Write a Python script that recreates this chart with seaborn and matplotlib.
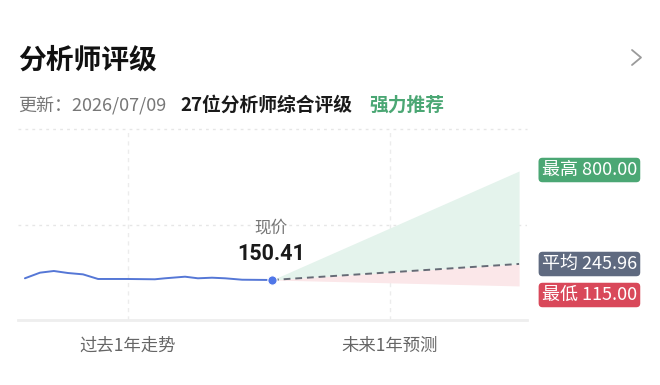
import matplotlib
matplotlib.use("Agg")
import matplotlib.pyplot as plt
from matplotlib.lines import Line2D
import seaborn as sns
import pandas as pd

# ---- data ----
hist_t = [0.0, 0.061, 0.117, 0.174, 0.235, 0.296, 0.413, 0.526, 0.567, 0.648, 0.700, 0.757, 0.810, 0.879, 1.0]
hist_price = [160.5, 194, 204, 192, 184, 156.4, 156.4, 154.6, 160.5, 170, 160.5, 164, 160.5, 152, 150.41]
current_price = 150.41
target_high = 800.00
target_avg = 245.96
target_low = 115.00
forecast_t = [1.0, 2.0]
period_labels = ["过去1年走势", "未来1年预测"]
period_ticks = [0.417, 1.478]

sns.set_theme(style="white")
plt.rcParams['font.family'] = ['Noto Sans CJK SC', 'DejaVu Sans']

W, H = 660, 385
fig = plt.figure(figsize=(6.6, 3.85), dpi=100)
fig.patch.set_facecolor("white")

def fx(px):
    return px / W

def fy(py):
    return 1 - py / H

ax = fig.add_axes([fx(18), fy(320), fx(527) - fx(18), fy(129) - fy(320)])
ax.set_facecolor("white")
ax.set_xlim(-0.028, 2.032)
ax.set_ylim(-88, 1050)

# grid
ymid = (-88 + 1050) / 2
ax.axhline(ymid, color="#e6e6e6", lw=1, ls=(0, (2, 3)), zorder=0)
ax.axhline(1050, color="#e6e6e6", lw=1, ls=(0, (2, 3)), zorder=0, clip_on=False)
for t in period_ticks:
    ax.axvline(t, color="#ececec", lw=1, ls=(0, (3, 3)), zorder=0)

for s in ["top", "right", "left"]:
    ax.spines[s].set_visible(False)
ax.spines["bottom"].set_color("#eeeeee")
ax.spines["bottom"].set_linewidth(2)
ax.set_yticks([])
ax.set_xticks([])

# forecast fills
f_high = [current_price, target_high]
f_avg = [current_price, target_avg]
f_low = [current_price, target_low]
ax.fill_between(forecast_t, f_avg, f_high, color="#e4f3ec", lw=0, zorder=1)
ax.fill_between(forecast_t, f_low, f_avg, color="#fbe7e9", lw=0, zorder=1)
ax.plot(forecast_t, f_avg, color="#666b76", lw=1.4, ls=(0, (3.5, 2.5)), zorder=3)

# history line
hist_df = pd.DataFrame({"t": hist_t, "price": hist_price})
sns.lineplot(data=hist_df, x="t", y="price", ax=ax, color="#5577d6", lw=1.4, zorder=4)
sns.scatterplot(x=[hist_t[-1]], y=[hist_price[-1]], ax=ax, color="#4f76e8", s=45,
                edgecolor="white", linewidth=0.8, zorder=5)
ax.set_xlabel("")
ax.set_ylabel("")

# current price labels
fig.text(fx(271), fy(228), "现价", ha="center", va="center", fontsize=12, color="#777777")
fig.text(fx(271), fy(254), f"{current_price:.2f}", ha="center", va="center", fontsize=15.5,
         fontweight="bold", color="#1a1a1a", family=["Roboto", "DejaVu Sans"])

# badges
def badge(py, label, value, color):
    fig.text(fx(637), fy(py), f"{label} {value:.2f}", ha="right", va="center", fontsize=13,
             color="white",
             bbox=dict(boxstyle="round,pad=0.18,rounding_size=0.22", fc=color, ec="none"))

badge(170, "最高", target_high, "#4ba774")
badge(264, "平均", target_avg, "#5f6a80")
badge(295, "最低", target_low, "#d9485a")

# period labels
for t, lab in zip(period_ticks, period_labels):
    px = 18 + (t + 0.028) / (2.032 + 0.028) * (527 - 18)
    fig.text(fx(px), fy(346), lab, ha="center", va="center", fontsize=12.5, color="#666666")

# header
fig.text(fx(18), fy(61), "分析师评级", ha="left", va="center", fontsize=20, fontweight="bold", color="#111111")
fig.add_artist(Line2D([fx(632), fx(641), fx(632)], [fy(50), fy(57.5), fy(65)],
                      transform=fig.transFigure, color="#9a9a9a", lw=1.3))
fig.text(fx(18), fy(105), "更新：2026/07/09", ha="left", va="center", fontsize=13, color="#777777")
fig.text(fx(180), fy(105), "27位分析师综合评级", ha="left", va="center", fontsize=13.5,
         fontweight="bold", color="#1a1a1a")
fig.text(fx(369), fy(105), "强力推荐", ha="left", va="center", fontsize=13.5,
         fontweight="bold", color="#4ba774")

fig.savefig("out.png", dpi=100, facecolor="white")
